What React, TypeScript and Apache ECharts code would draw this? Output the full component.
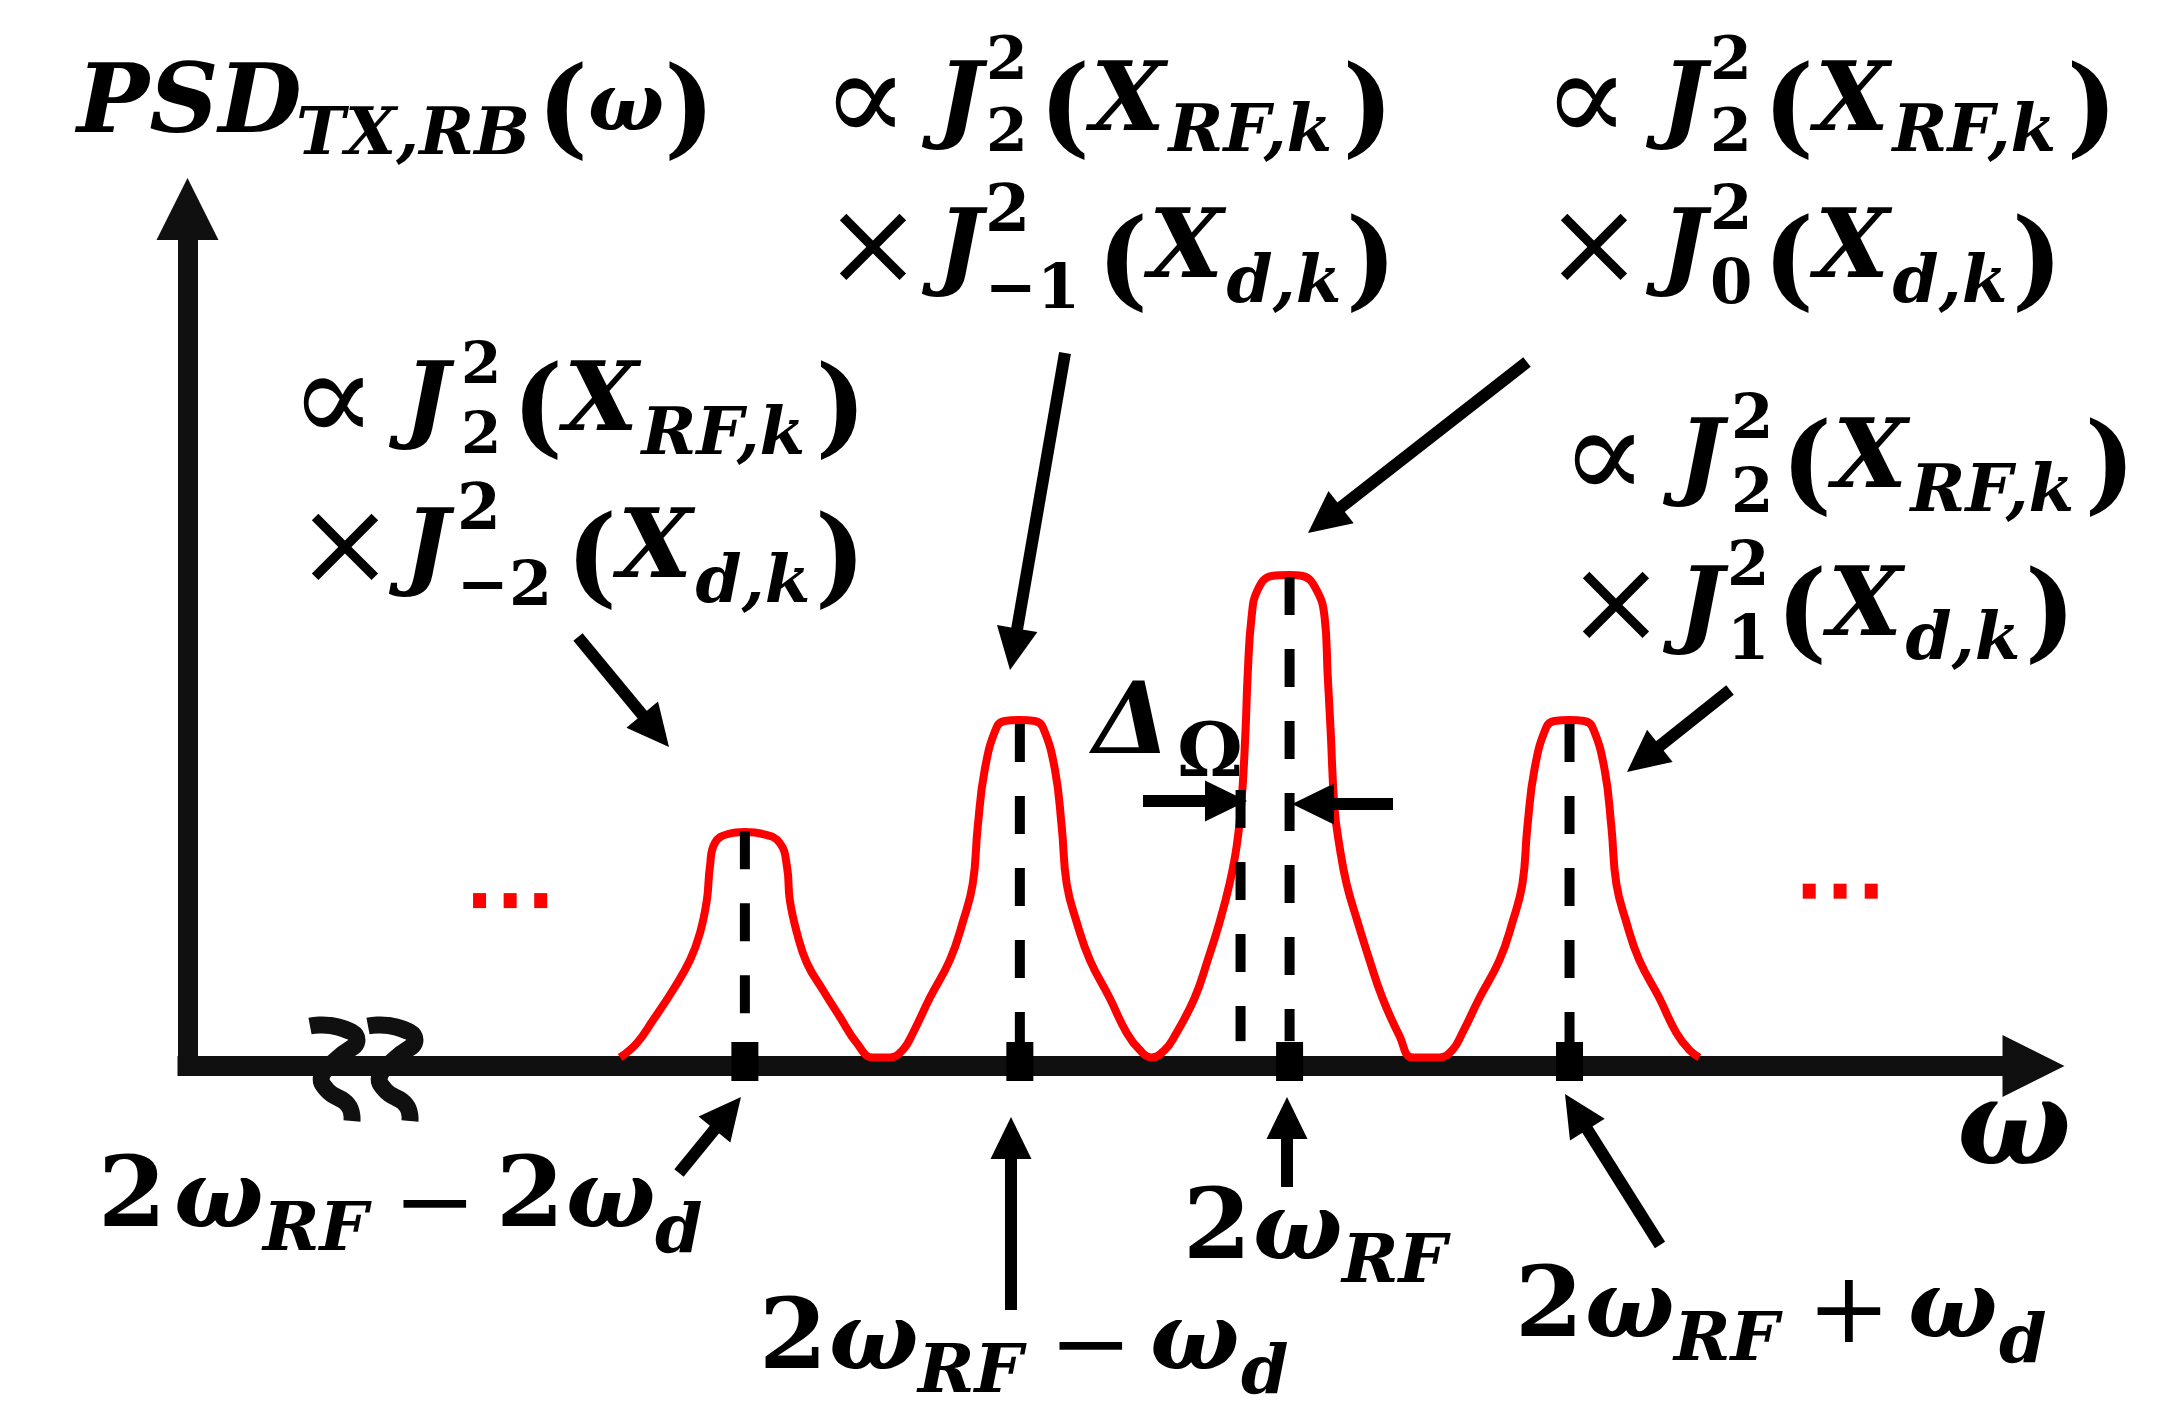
import React, { useEffect, useRef } from "react";
import * as echarts from "echarts";

// ---- data (x in units of ω_d relative to 2ω_RF, y in % of axis height) ----
const CURVE_X = [
  -2.43, -2.369, -2.31, -2.238, -2.176, -2.14, -2.115, -2.104, -2.086, -2.038, -1.977, -1.911, -1.85, -1.824, -1.814, -1.788, -1.752, -1.694, -1.632, -1.571, -1.513,
  -1.451, -1.404, -1.367, -1.306, -1.233, -1.186, -1.15, -1.132, -1.106, -1.063, -1.034, -0.979, -0.925, -0.896, -0.852, -0.827, -0.809, -0.773, -0.725, -0.653, -0.591, -0.544, -0.501,
  -0.453, -0.417, -0.345, -0.297, -0.254, -0.218, -0.192, -0.174, -0.16, -0.152, -0.138, -0.116, -0.065, 0, 0.047, 0.098, 0.127, 0.138, 0.149, 0.163, 0.181, 0.207, 0.247, 0.29, 0.337, 0.399, 0.446,
  0.544, 0.591, 0.627, 0.689, 0.762, 0.809, 0.845, 0.863, 0.889, 0.932, 0.961, 1.016, 1.07, 1.099, 1.143, 1.168, 1.186, 1.222, 1.269, 1.342, 1.404, 1.451, 1.487,
];
const CURVE_Y = [
  1.0, 2.68, 5.37, 8.87, 12.37, 15.52, 19.37, 23.22, 26.02, 27.07, 27.3, 27.07, 26.02, 23.22, 19.37, 15.52, 12.02, 8.87, 5.72, 2.68, 1.0,
  1.0, 1.87, 3.85, 7.93, 12.37, 16.8, 21.24, 27.89, 34.66, 39.56, 40.25, 40.37, 40.25, 39.56, 34.66, 27.89, 21.24, 16.8, 12.37, 7.93, 3.85, 1.87, 1.0,
  1.87, 3.5, 7.93, 12.37, 16.8, 21.24, 25.67, 31.04, 39.09, 45.74, 52.39, 55.54, 57.18, 57.29, 57.18, 55.54, 52.39, 45.74, 39.09, 30.11, 25.67, 21.24, 16.8, 12.37, 7.93, 3.5, 1.0,
  1.0, 1.87, 3.85, 7.93, 12.37, 16.8, 21.24, 27.89, 34.66, 39.56, 40.25, 40.37, 40.25, 39.56, 34.66, 27.89, 21.24, 16.8, 12.37, 7.93, 3.85, 1.87, 1.0,
];
const PEAK_CENTERS = [-1.977, -0.979, 0, 1.016];
const DASH_TOPS = [27.4, 39.9, 57.06, 39.9];
const DASH_BOTTOMS = [5.8, 2.8, 2.9, 2.8];
const HALF_WIDTH_X = -0.178;
const HALF_WIDTH_TOP = 32.2;
const HALF_WIDTH_BOTTOM = 2.9;
const MARKER_Y = 0.53;
const DOTS_LEFT_X = [-2.94, -2.829, -2.718];
const DOTS_LEFT_Y = 19.3;
const DOTS_RIGHT_X = [1.886, 1.998, 2.111];
const DOTS_RIGHT_Y = 20.4;

// ---- text content ----
const FONT = '"DejaVu Serif", serif';
const FM = 96, FS = 66, FD = 70, FDS = 62, FP = 108, FL = 100, FN = 98, FW = 94, FLS = 68;
const BI = "bi", B = "b", R = "r";

type Piece = [string, number, number, number, string, string?];

const PIECES: Piece[] = [
  // title
  ["PSD", 77, 98, 96, BI], ["TX,RB", 296, 131, 66, BI], ["(", 537, 106, FP, B], ["ω", 588, 102, 80, BI], [")", 715, 106, FP, B, "right"],
  // bottom labels
  ["2", 98, 1191, FN, B], ["ω", 174, 1194, FW, BI], ["RF", 263, 1226, FLS, BI], ["−", 393, 1200, FL, R], ["2", 496, 1191, FN, B], ["ω", 566, 1194, FW, BI], ["d", 655, 1228, FLS, BI],
  ["2", 759, 1333, FN, B], ["ω", 829, 1336, FW, BI], ["RF", 918, 1368, FLS, BI], ["−", 1049, 1342, FL, R], ["ω", 1150, 1336, FW, BI], ["d", 1241, 1369, FLS, BI],
  ["2", 1183, 1223, FN, B], ["ω", 1253, 1226, FW, BI], ["RF", 1342, 1258, FLS, BI],
  ["2", 1515, 1301, FN, B], ["ω", 1585, 1304, FW, BI], ["RF", 1674, 1336, FLS, BI], ["+", 1807, 1307, FL, R], ["ω", 1908, 1304, FW, BI], ["d", 1999, 1338, FLS, BI],
  // axis label and width label
  ["ω", 1957, 1121, 120, BI],
  ["Δ", 1093, 718, 100, BI], ["Ω", 1177, 750, 74, B],
];

// formula lines: operator, J, stacked scripts, (X_sub)
type Line = {
  op: string; opX: number; jX: number; y: number;
  st: [string, string, number, number, number, number]; // top, bottom, bottomSize, x, yCenter, lineHeight
  po: [number, number]; X: [number, number]; sub: [string, number, number]; pc: [number, number];
};
const LINES: Line[] = [
  { op: "∝", opX: 840, jX: 928, y: 96, st: ["2", "2", FD, 986, 93.5, 72], po: [1039, 105], X: [1088, 96], sub: ["RF,k", 1164, 128], pc: [1327, 105] },
  { op: "×", opX: 840, jX: 928, y: 243, st: ["2", "−1", FDS, 983, 247, 78], po: [1097, 258], X: [1141, 243], sub: ["d,k", 1212, 279], pc: [1327, 258] },
  { op: "∝", opX: 1561, jX: 1652, y: 96, st: ["2", "2", FD, 1710, 93.5, 72], po: [1763, 105], X: [1812, 96], sub: ["RF,k", 1883, 128], pc: [2055, 105] },
  { op: "×", opX: 1561, jX: 1652, y: 243, st: ["2", "0", FD, 1710, 244, 74], po: [1763, 258], X: [1803, 243], sub: ["d,k", 1874, 279], pc: [1989, 258] },
  { op: "∝", opX: 308, jX: 395, y: 396, st: ["2", "2", FD, 461, 398, 70], po: [512, 405], X: [563, 396], sub: ["RF,k", 636, 431], pc: [801, 405] },
  { op: "×", opX: 312, jX: 395, y: 543, st: ["2", "−2", FDS, 457, 545, 76], po: [566, 555], X: [613, 543], sub: ["d,k", 690, 579], pc: [801, 555] },
  { op: "∝", opX: 1579, jX: 1669, y: 453, st: ["2", "2", FD, 1731, 453, 74], po: [1781, 462], X: [1830, 453], sub: ["RF,k", 1904, 488], pc: [2073, 462] },
  { op: "×", opX: 1583, jX: 1669, y: 601, st: ["2", "1", FD, 1727, 600.5, 74], po: [1776, 610], X: [1826, 601], sub: ["d,k", 1901, 636], pc: [2008, 610] },
];

// arrows: [tailX, tailY, tipX, tipY]
const ARROWS: number[][] = [
  [578, 637, 669, 747],
  [1065, 353, 1010, 670],
  [1527, 362, 1308, 533],
  [1730, 690, 1627, 772],
  [679, 1173, 741, 1097],
  [1011, 1310, 1011, 1117],
  [1287, 1187, 1287, 1097],
  [1660, 1245, 1565, 1094],
  [1143, 801, 1247, 801],
  [1393, 804, 1292, 804],
];

function textEl(p: Piece) {
  const [text, x, y, size, kind, align] = p;
  return {
    type: "text",
    z: 100,
    x,
    y,
    style: {
      text,
      fontSize: size,
      fontFamily: FONT,
      fontWeight: kind === R ? "normal" : "bold",
      fontStyle: kind === BI ? "italic" : "normal",
      fill: "#000",
      align: align || "left",
      verticalAlign: "middle",
    },
  };
}

function lineEls(l: Line) {
  const els: any[] = [];
  const opSize = l.op === "∝" ? 128 : 118;
  const origin = l.opX - 0.14 * opSize;
  const jOrigin = l.jX + 9;
  els.push({
    type: "text", z: 100, x: origin, y: l.y,
    style: {
      text: "{o|" + l.op + "}{j|J}", fill: "#000", align: "left", verticalAlign: "middle",
      rich: {
        o: { fontSize: opSize, fontFamily: FONT, fontWeight: "normal", width: jOrigin - origin, fill: "#000" },
        j: { fontSize: FM, fontFamily: FONT, fontWeight: "bold", fontStyle: "italic", fill: "#000" },
      },
    },
  });
  let cursor = jOrigin + 0.49 * FM + 1;
  const [top, bot, botSize0, sx, sy, lh] = l.st;
  const topSize = Math.min(FD, Math.floor(lh / 1.2));
  const botSize = Math.min(botSize0, Math.floor(lh / 1.2));
  const stX = Math.max(sx, cursor);
  els.push({
    type: "text", z: 100, x: stX, y: sy,
    style: {
      text: "{a|" + top + "}\n{b|" + bot + "}", fill: "#000", align: "left", verticalAlign: "middle",
      rich: {
        a: { fontSize: topSize, fontFamily: FONT, fontWeight: "bold", lineHeight: lh, fill: "#000" },
        b: { fontSize: botSize, fontFamily: FONT, fontWeight: "bold", lineHeight: lh, fill: "#000" },
      },
    },
  });
  const botW = bot.length > 1 ? (0.838 + 0.696) * botSize : 0.696 * botSize;
  cursor = stX + Math.max(0.696 * topSize, botW) + 1;
  const poX = Math.max(l.po[0], cursor);
  els.push(textEl(["(", poX, l.po[1], FP, B]));
  cursor = poX + 0.47 * FP + 1;
  const xX = Math.max(l.X[0], cursor);
  els.push(textEl(["X", xX, l.X[1], FM, BI]));
  cursor = xX + 0.8 * FM + 1;
  const sX = Math.max(l.sub[1], cursor);
  els.push(textEl([l.sub[0], sX, l.sub[2], FS, BI]));
  cursor = sX + (l.sub[0] === "RF,k" ? 2.62 : 1.79) * FS + 1;
  const pcX = Math.max(l.pc[0], cursor);
  els.push(textEl([")", pcX, l.pc[1], FP, B]));
  return els;
}

function arrowEls(a: number[]) {
  const [x1, y1, x2, y2] = a;
  const headL = 42, headW = 41, w = 12;
  const dx = x2 - x1, dy = y2 - y1;
  const L = Math.hypot(dx, dy);
  const ux = dx / L, uy = dy / L;
  const bx = x2 - ux * headL, by = y2 - uy * headL;
  const px = -uy, py = ux;
  return [
    { type: "line", z: 100, shape: { x1, y1, x2: bx + ux * 3, y2: by + uy * 3 }, style: { stroke: "#000", lineWidth: w } },
    {
      type: "polygon",
      z: 100,
      shape: { points: [[x2, y2], [bx + (px * headW) / 2, by + (py * headW) / 2], [bx - (px * headW) / 2, by - (py * headW) / 2]] },
      style: { fill: "#000" },
    },
  ];
}

const BREAK_1 = [[310, 1026], [338, 1027], [357, 1040], [338, 1058], [322, 1075], [327, 1090], [348, 1105], [352, 1121]];
const BREAK_2 = BREAK_1.map(([x, y]) => [x + 58, y]);

export default function App() {
  const ref = useRef<HTMLDivElement>(null);
  useEffect(() => {
    const chart = echarts.init(ref.current!, null, { renderer: "svg" });
    const curve = CURVE_X.map((x, i) => [x, CURVE_Y[i]]);
    const dashSeries = PEAK_CENTERS.map((c, i) => ({
      type: "line",
      name: "center" + i,
      data: [[c, DASH_TOPS[i]], [c, DASH_BOTTOMS[i]]],
      symbol: "none",
      z: 4,
      lineStyle: { color: "#000", width: 10, type: [38, 34] },
    }));
    const axisCommon = {
      axisLine: {
        show: true,
        onZero: false,
        symbol: ["none", "triangle"],
        symbolSize: [62, 62],
        lineStyle: { color: "#101010", width: 20, cap: "square" },
      },
      axisTick: { show: false },
      axisLabel: { show: false },
      splitLine: { show: false },
    };
    const option: any = {
      animation: false,
      backgroundColor: "#fff",
      grid: { left: 187.5, right: 150.5, top: 209, bottom: 347, containLabel: false },
      xAxis: { type: "value", min: -4, max: 2.7, ...axisCommon },
      yAxis: { type: "value", min: 0, max: 100, ...axisCommon },
      series: [
        {
          type: "line",
          name: "PSD",
          data: curve,
          smooth: 0.45,
          symbol: "none",
          z: 3,
          lineStyle: { color: "#ff0000", width: 8 },
        },
        ...dashSeries,
        {
          type: "line",
          name: "halfwidth",
          data: [[HALF_WIDTH_X, HALF_WIDTH_TOP], [HALF_WIDTH_X, HALF_WIDTH_BOTTOM]],
          symbol: "none",
          z: 4,
          lineStyle: { color: "#000", width: 10, type: [38, 34] },
        },
        {
          type: "scatter",
          name: "markers",
          data: PEAK_CENTERS.map((c) => [c, MARKER_Y]),
          symbol: "rect",
          symbolSize: [27, 39],
          z: 5,
          itemStyle: { color: "#000", opacity: 1 },
        },
        {
          type: "scatter",
          name: "dots",
          data: [...DOTS_LEFT_X.map((x) => [x, DOTS_LEFT_Y]), ...DOTS_RIGHT_X.map((x) => [x, DOTS_RIGHT_Y])],
          symbol: "rect",
          symbolSize: [13, 15],
          z: 5,
          itemStyle: { color: "#ff0000", opacity: 1 },
        },
      ],
      graphic: [
        { type: "polyline", z: 100, shape: { points: BREAK_1, smooth: 0.5 }, style: { stroke: "#101010", lineWidth: 17, fill: null } },
        { type: "polyline", z: 100, shape: { points: BREAK_2, smooth: 0.5 }, style: { stroke: "#101010", lineWidth: 17, fill: null } },
        ...ARROWS.flatMap(arrowEls),
        ...LINES.flatMap(lineEls),
        ...PIECES.map(textEl),
      ],
    };
    chart.setOption(option);
    return () => chart.dispose();
  }, []);
  return (
    <div
      ref={ref}
      style={{ position: "fixed", left: 0, top: 0, width: 2184, height: 1413, background: "#fff" }}
    />
  );
}
